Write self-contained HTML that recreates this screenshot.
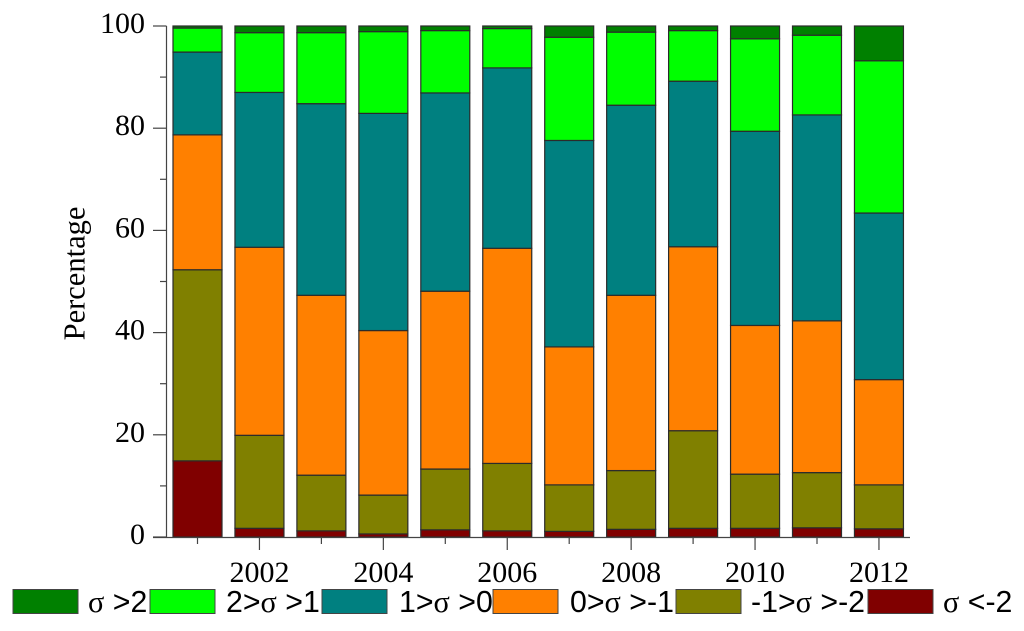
<!DOCTYPE html>
<html>
<head>
<meta charset="utf-8">
<style>
html,body{margin:0;padding:0;background:#fff;width:1024px;height:631px;overflow:hidden}
svg{display:block}
text{fill:#000}
.t{font-family:"Liberation Serif",serif;font-size:30px}
.yt{font-family:"Liberation Serif",serif;font-size:30.5px}
.l{font-family:"Liberation Sans",sans-serif;font-size:30.3px}
.s{font-family:"Liberation Serif",serif}
</style>
</head>
<body>
<svg id="chart" xmlns="http://www.w3.org/2000/svg" width="1024" height="631" viewBox="0 0 1024 631"></svg>
<script>
const years = [2001,2002,2003,2004,2005,2006,2007,2008,2009,2010,2011,2012];
const yTickLabels = [0,20,40,60,80,100];
const xTickLabels = [2002,2004,2006,2008,2010,2012];
const seriesLtMinus2 = [14.9,1.7,1.2,0.6,1.4,1.2,1.1,1.5,1.7,1.7,1.8,1.6];
const seriesMinus2Minus1 = [37.4,18.2,10.9,7.6,11.9,13.2,9.1,11.5,19.1,10.6,10.8,8.6];
const seriesMinus1Zero = [26.4,36.8,35.2,32.2,34.8,42.1,27.0,34.3,36.0,29.1,29.7,20.6];
const seriesZeroOne = [16.2,30.3,37.5,42.5,38.8,35.3,40.4,37.2,32.4,38.0,40.3,32.6];
const seriesOneTwo = [4.7,11.7,13.9,16.0,12.2,7.7,20.2,14.3,9.9,18.1,15.6,29.8];
const seriesGt2 = [0.4,1.3,1.3,1.1,0.9,0.5,2.2,1.2,0.9,2.5,1.8,6.8];
const stackNames = ['lt-minus-2','minus-2-to-minus-1','minus-1-to-0','0-to-1','1-to-2','gt-2'];
const stackValues = [seriesLtMinus2,seriesMinus2Minus1,seriesMinus1Zero,seriesZeroOne,seriesOneTwo,seriesGt2];
const stackColors = ['#800000','#808000','#ff8000','#008080','#00ff00','#008000'];

const NS = 'http://www.w3.org/2000/svg';
const svg = document.getElementById('chart');
function make(tag, attrs, parent){
  const el = document.createElementNS(NS, tag);
  for (const k in attrs) el.setAttribute(k, attrs[k]);
  (parent || svg).appendChild(el);
  return el;
}
const yScale = v => 537 - v * 5.11;
const xScale = yr => 197.5 + (yr - 2001) * 61.95;
const barW = 49;

// bars
years.forEach((yr, i) => {
  let acc = 0;
  stackValues.forEach((vals, s) => {
    const top = yScale(acc + vals[i]);
    const bottom = yScale(acc);
    const r = make('rect', {x: xScale(yr) - barW / 2, y: top, width: barW, height: bottom - top, fill: stackColors[s], stroke: '#2b2b2b', 'stroke-width': 1.2});
    
    
    acc += vals[i];
  });
});

// y axis
const yAxis = make('line', {x1: 166.5, y1: 26, x2: 166.5, y2: 537, stroke: '#444', 'stroke-width': 1.2});


for (let v = 0; v <= 100; v += 10) {
  const major = v % 20 === 0;
  const t = make('line', {x1: major ? 153 : 160, y1: yScale(v), x2: 166.5, y2: yScale(v), stroke: '#444', 'stroke-width': 1.2});
  
  
}
yTickLabels.forEach(v => {
  const t = make('text', {x: 145, y: yScale(v) + 7, 'text-anchor': 'end', class: 't'});
  t.textContent = v;
  
  
});

// x axis
const xAxis = make('line', {x1: 153, y1: 537.5, x2: 910, y2: 537.5, stroke: '#444', 'stroke-width': 1.2});


years.forEach(yr => {
  const major = yr % 2 === 0;
  const t = make('line', {x1: xScale(yr), y1: 537, x2: xScale(yr), y2: major ? 550 : 544, stroke: '#444', 'stroke-width': 1.2});
  
  
});
xTickLabels.forEach(yr => {
  const t = make('text', {x: xScale(yr), y: 582, 'text-anchor': 'middle', class: 't'});
  t.textContent = yr;
  
  
});
</script>
<script>
(function(){
  const NS = 'http://www.w3.org/2000/svg';
  const svg = document.getElementById('chart');
  const legendColors = ['#008000','#00ff00','#008080','#ff8000','#808000','#800000'];
  const legendSwatchX = [13,150,322,493,676,868];
  const legendTextX = [88,226,399,570,751,943];
  const legendParts = [['','>2'],['2>','>1'],['1>','>0'],['0>','>-1'],['-1>','>-2'],['','<-2']];
  legendColors.forEach((c, i) => {
    const r = document.createElementNS(NS, 'rect');
    r.setAttribute('x', legendSwatchX[i]);
    r.setAttribute('y', 589.5);
    r.setAttribute('width', 65);
    r.setAttribute('height', 24);
    r.setAttribute('fill', c);
    r.setAttribute('stroke', '#444');
    r.setAttribute('stroke-width', 1);
    
    
    svg.appendChild(r);
    const t = document.createElementNS(NS, 'text');
    t.setAttribute('x', legendTextX[i]);
    t.setAttribute('y', 612);
    t.setAttribute('class', 'l');
    t.setAttribute('xml:space', 'preserve');
    
    
    t.appendChild(document.createTextNode(legendParts[i][0]));
    const s = document.createElementNS(NS, 'tspan');
    s.setAttribute('class', 's');
    s.textContent = 'σ';
    t.appendChild(s);
    t.appendChild(document.createTextNode('\u00a0' + legendParts[i][1]));
    svg.appendChild(t);
  });
  const yt = document.createElementNS(NS, 'text');
  yt.setAttribute('class', 'yt');
  yt.setAttribute('text-anchor', 'middle');
  yt.setAttribute('transform', 'translate(84.5 273.5) rotate(-90)');
  
  
  yt.textContent = 'Percentage';
  svg.appendChild(yt);
})();
</script>
</body>
</html>
